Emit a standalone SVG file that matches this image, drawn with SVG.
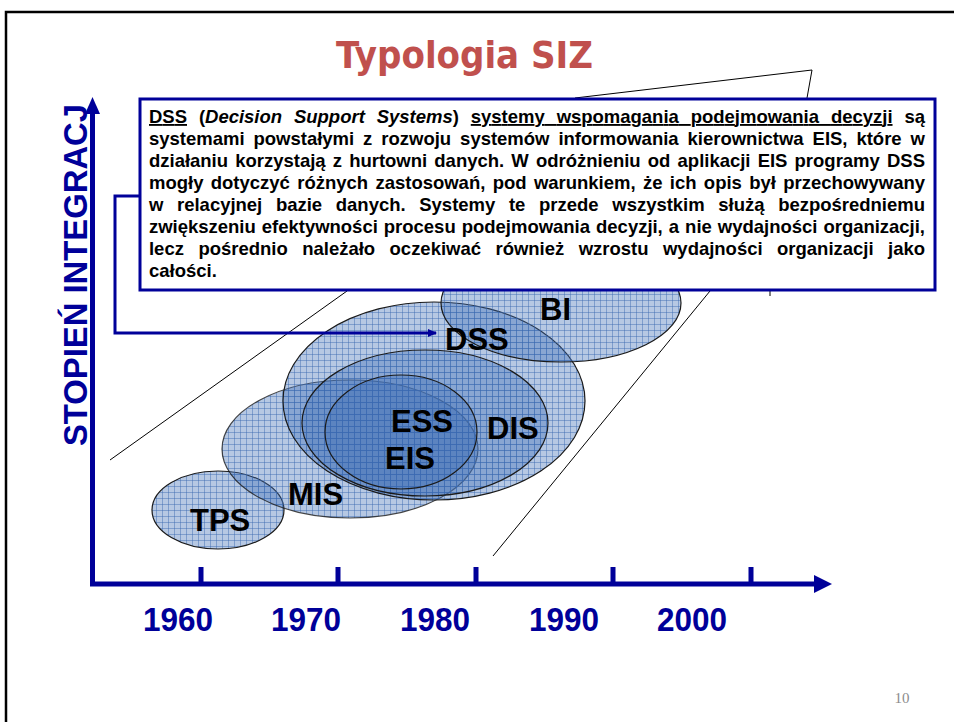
<svg xmlns="http://www.w3.org/2000/svg" width="954" height="722" viewBox="0 0 954 722">
  <defs>
    <style>
      .frame { fill: none; stroke: #000; stroke-width: 2.5; }
      .title { font-family: "DejaVu Sans Condensed", "DejaVu Sans", sans-serif; font-weight: bold; font-size: 38px; fill: #C0504D; }
      .axis { stroke: #000099; stroke-width: 5; fill: none; }
      .axhead { fill: #000099; }
      .year { font-family: "Liberation Sans", Arial, sans-serif; font-weight: bold; font-size: 34px; fill: #000099; text-anchor: middle; }
      .ylab { font-family: "Liberation Sans", Arial, sans-serif; font-weight: bold; font-size: 33px; fill: #000099; }
      .ell { fill: url(#grid); stroke: #1a1a1a; stroke-width: 1.2; }
      .lbl { font-family: "Liberation Sans", Arial, sans-serif; font-weight: bold; font-size: 31px; fill: #000; }
      .persp { stroke: #000; stroke-width: 1; fill: none; }
      .box { fill: #fff; stroke: #000099; stroke-width: 3; }
      .t { font-family: "Liberation Sans", Arial, sans-serif; font-weight: bold; font-size: 18.5px; fill: #000; }
      .conn { stroke: #000099; stroke-width: 3; fill: none; }
      .pg { font-family: "Liberation Serif", "Times New Roman", serif; font-size: 15px; fill: #8c8c8c; text-anchor: middle; }
    </style>
    <pattern id="grid" width="6" height="6" patternUnits="userSpaceOnUse">
      <rect width="6" height="6" fill="#3F6FB5" fill-opacity="0.38"/>
      <path d="M0 0.5H6M0.5 0V6" stroke="#3A68B0" stroke-width="1" stroke-opacity="0.45"/>
    </pattern>
    <marker id="ah" markerWidth="10" markerHeight="10" refX="8" refY="5" orient="auto" markerUnits="userSpaceOnUse">
      <path d="M0 1L9 5L0 9Z" fill="#000099"/>
    </marker>
  </defs>

  <rect width="954" height="722" fill="#fff"/>

  <!-- slide frame -->
  <path class="frame" d="M6 722V12H954"/>

  <text class="title" x="464.5" y="68" text-anchor="middle" textLength="257" lengthAdjust="spacingAndGlyphs">Typologia SIZ</text>

  <!-- perspective lines -->
  <g id="perspective">
    <path class="persp" d="M110 460L347 291"/>
    <path class="persp" d="M493 556L710 291"/>
    <path class="persp" d="M575 98L812 70L807 98"/>
    <path class="persp" d="M770 291V296"/>
  </g>

  <!-- axes -->
  <g id="axes">
    <path class="axis" d="M92.5 586V111"/>
    <polygon class="axhead" points="92.5,97 85,114 100,114"/>
    <path class="axis" d="M90 584H816"/>
    <polygon class="axhead" points="832,584 814,575 814,593"/>
    <path class="axis" d="M201 567V584M338 567V584M476 567V584M613 567V584M751 567V584" stroke-width="4.5"/>
    <text class="year" x="178" y="631" textLength="70" lengthAdjust="spacingAndGlyphs">1960</text>
    <text class="year" x="306" y="631" textLength="70" lengthAdjust="spacingAndGlyphs">1970</text>
    <text class="year" x="435" y="631" textLength="70" lengthAdjust="spacingAndGlyphs">1980</text>
    <text class="year" x="564" y="631" textLength="70" lengthAdjust="spacingAndGlyphs">1990</text>
    <text class="year" x="692" y="631" textLength="70" lengthAdjust="spacingAndGlyphs">2000</text>
    <text class="ylab" transform="translate(87,446) rotate(-90)" textLength="342" lengthAdjust="spacingAndGlyphs">STOPIEŃ INTEGRACJ</text>
  </g>

  <!-- ellipse nodes -->
  <g id="node-tps">
    <ellipse class="ell" cx="218" cy="510" rx="66" ry="39"/>
  </g>
  <g id="node-mis">
    <ellipse class="ell" cx="350" cy="449" rx="128" ry="69" stroke="#333" stroke-opacity="0.8"/>
  </g>
  <g id="node-dss">
    <ellipse class="ell" cx="434" cy="401" rx="151" ry="99"/>
  </g>
  <g id="node-dis">
    <ellipse class="ell" cx="425" cy="423" rx="123" ry="73"/>
  </g>
  <g id="node-ess-eis">
    <ellipse class="ell" cx="401" cy="432" rx="76" ry="57"/>
  </g>
  <g id="node-bi">
    <ellipse class="ell" cx="561" cy="303" rx="120" ry="59"/>
  </g>

  <g id="labels">
    <text class="lbl" x="190" y="531">TPS</text>
    <text class="lbl" x="288" y="505">MIS</text>
    <text class="lbl" x="445" y="350">DSS</text>
    <text class="lbl" x="540" y="320">BI</text>
    <text class="lbl" x="391" y="432">ESS</text>
    <text class="lbl" x="385" y="469">EIS</text>
    <text class="lbl" x="487" y="439">DIS</text>
  </g>

  <!-- callout box -->
  <g id="callout">
    <rect class="box" x="140" y="99" width="795" height="191"/>
    <text class="t" x="149" y="123" word-spacing="6.8" textLength="776"><tspan text-decoration="underline">DSS</tspan> (<tspan font-style="italic">Decision Support Systems</tspan>) <tspan text-decoration="underline">systemy wspomagania podejmowania decyzji</tspan> są</text>
    <text class="t" x="149" y="145" word-spacing="3.86" textLength="776">systemami powstałymi z rozwoju systemów informowania kierownictwa EIS, które w</text>
    <text class="t" x="149" y="167" word-spacing="2.05" textLength="776">działaniu korzystają z hurtowni danych. W odróżnieniu od aplikacji EIS programy DSS</text>
    <text class="t" x="149" y="189" word-spacing="2.24" textLength="776">mogły dotyczyć różnych zastosowań, pod warunkiem, że ich opis był przechowywany</text>
    <text class="t" x="149" y="211" word-spacing="8.56" textLength="776">w relacyjnej bazie danych. Systemy te przede wszystkim służą bezpośredniemu</text>
    <text class="t" x="149" y="233" word-spacing="0.91" textLength="776">zwiększeniu efektywności procesu podejmowania decyzji, a nie wydajności organizacji,</text>
    <text class="t" x="149" y="255" word-spacing="9.4" textLength="776">lecz pośrednio należało oczekiwać również wzrostu wydajności organizacji jako</text>
    <text class="t" x="149" y="277">całości.</text>
  </g>

  <!-- connectors -->
  <g id="connectors">
    <path class="conn" d="M140 196H115V333H436" marker-end="url(#ah)"/>
  </g>

  <text class="pg" x="902" y="703">10</text>
</svg>
